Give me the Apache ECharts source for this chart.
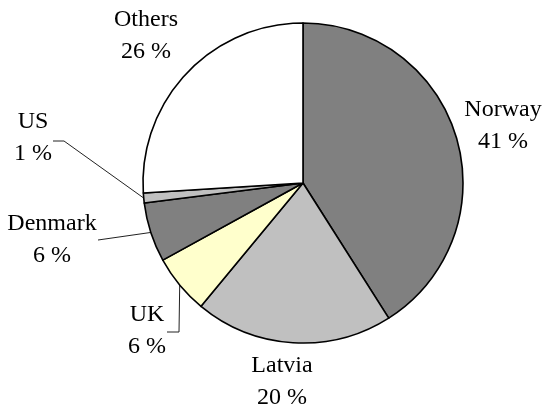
<!DOCTYPE html>
<html><head><meta charset="utf-8">
<script src="https://cdn.jsdelivr.net/npm/echarts@6/dist/echarts.min.js"></script>
<style>html,body{margin:0;padding:0;background:#fff}#c{width:544px;height:412px}</style>
</head><body><div id="c"></div>
<script>
const categories = ['Norway', 'Latvia', 'UK', 'Denmark', 'US', 'Others'];
const values = [41, 20, 6, 6, 1, 26];
const colors = ['#808080', '#c0c0c0', '#ffffcc', '#808080', '#c0c0c0', '#ffffff'];
// label placement (style)
const labelPos = [[503, 126], [282, 382], [147, 331], [52, 240], [33, 138], [146, 36]];
const leaderStart = [null, null, [[167, 332], [179, 332]], [[98, 240]], [[53, 141], [64, 141]], null];

const chart = echarts.init(document.getElementById('c'), null, {renderer: 'canvas'});
chart.setOption({
  animation: false,
  backgroundColor: '#fff',
  series: [{
    type: 'pie',
    center: [303, 183],
    radius: 160,
    startAngle: 90,
    clockwise: true,
    avoidLabelOverlap: false,
    itemStyle: {borderColor: '#000', borderWidth: 1.6},
    emphasis: {disabled: true},
    label: {
      show: true,
      formatter: '{b}\n{c} %',
      fontFamily: 'Liberation Serif',
      fontSize: 24,
      lineHeight: 32,
      color: '#000',
      align: 'center'
    },
    labelLine: {show: true, length: 5, length2: 5, lineStyle: {color: '#222', width: 1}},
    labelLayout: function (p) {
      const i = p.dataIndex;
      const res = {x: labelPos[i][0], y: labelPos[i][1], align: 'center', verticalAlign: 'middle'};
      if (leaderStart[i] && p.labelLinePoints) {
        const edge = p.labelLinePoints[0];
        res.labelLinePoints = leaderStart[i].concat([[edge[0], edge[1]]]);
      }
      return res;
    },
    data: categories.map((n, i) => ({
      name: n,
      value: values[i],
      itemStyle: {color: colors[i]},
      labelLine: {show: !!leaderStart[i]}
    }))
  }]
});
</script></body></html>
